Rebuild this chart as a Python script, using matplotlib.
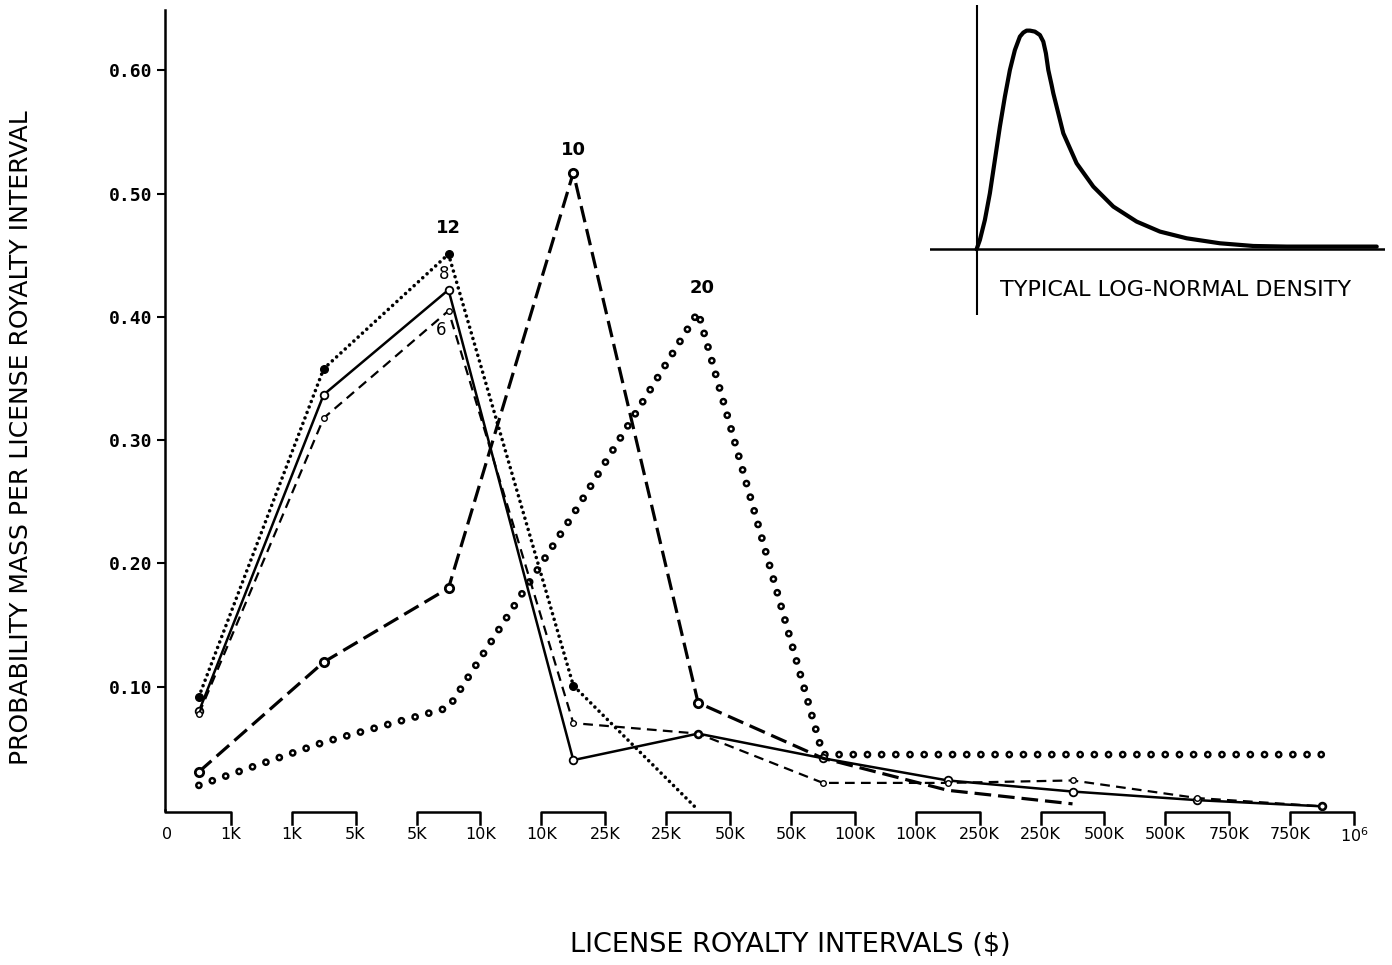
import matplotlib.pyplot as plt
import numpy as np

# dash lengths in points, not scaled by line width (used for the dot chains)
plt.rcParams['lines.scale_dashes'] = False

# royalty intervals ($): label under the left and right end of each bracket
left_labels = ['0', '1K', '5K', '10K', '25K', '50K', '100K', '250K', '500K', '750K']
right_labels = ['1K', '5K', '10K', '25K', '50K', '100K', '250K', '500K', '750K', '10$^6$']

# probability mass per interval
p6 = [0.078, 0.318, 0.405, 0.0705, 0.062, 0.022, 0.022, 0.024, 0.0097, 0.003]
p8 = [0.080, 0.337, 0.422, 0.0405, 0.062, 0.042, 0.024, 0.015, 0.008, 0.003]
p10 = [0.031, 0.120, 0.180, 0.517, 0.087, 0.042, 0.016, 0.005]
p12 = [0.092, 0.358, 0.451, 0.101, 0.0]
p20 = [0.020, 0.055, 0.083, 0.240, 0.404, 0.045, 0.045, 0.045, 0.045, 0.045]

# inset sketch of a log-normal density
inset_x = [0, 3.3, 8.3, 13.3, 18.3, 23.3, 28.3, 33.3, 38.3, 43.3, 46.7, 50,
           53.3, 58.3, 63.3, 66.7, 69.3, 71.7, 75, 76.7, 86.7, 100, 116.7,
           136.7, 160, 183.3, 210, 243.3, 276.7, 310, 400]
inset_y = [0, 9.3, 29.3, 56, 89.3, 122.7, 152.7, 179.3, 199.3, 212.7, 216.7,
           218.7, 218.7, 217.7, 214.3, 207.7, 196, 179.3, 164.3, 156, 116, 86,
           62.7, 42.7, 27.7, 17.7, 11, 6, 3.3, 2.7, 2.7]

fig = plt.figure(figsize=(13.92, 9.65), dpi=100)
ax = fig.add_axes([0.1185, 0.1606, 0.8764, 0.829])

x = np.arange(len(left_labels))

# 20: chain of small rings (black dots with white centres)
x20 = x[:len(p20)]
ax.plot(x20, p20, color='black', lw=5.6, dashes=(0.01, 10.2),
        dash_capstyle='round', zorder=3)
ax.plot(x20, p20, color='white', lw=2.0, dashes=(0.01, 10.2),
        dash_capstyle='round', zorder=3)

# 12: fine dotted line
x12 = x[:len(p12)]
ax.plot(x12, p12, color='black', lw=2.6, dashes=(0.01, 4.2),
        dash_capstyle='round', zorder=4)
ax.plot(x12[:-1], p12[:-1], 'o', color='black', ms=5.5, zorder=5)

# 8: solid line
ax.plot(x, p8, color='black', lw=1.8, marker='o', ms=5.5, mfc='white',
        mec='black', mew=1.3, zorder=4)

# 6: short dashes
ax.plot(x, p6, color='black', lw=1.6, dashes=(7, 4.5), marker='o', ms=4,
        mfc='white', mec='black', mew=1.0, zorder=4)

# 10: long dashes
x10 = x[:len(p10)]
ax.plot(x10, p10, color='black', lw=2.3, dashes=(12, 5), zorder=4)
ax.plot(x10[:5], p10[:5], 'o', ms=6, mfc='white', mec='black', mew=2.0, zorder=5)

# series labels next to their peaks
ax.annotate('12', (2, p12[2]), xytext=(0, 12), textcoords='offset points',
            ha='center', va='bottom', fontsize=13, fontweight='bold')
ax.annotate('8', (2, p8[2]), xytext=(-3, 5), textcoords='offset points',
            ha='center', va='bottom', fontsize=12)
ax.annotate('6', (2, p6[2]), xytext=(-5, -7), textcoords='offset points',
            ha='center', va='top', fontsize=12)
ax.annotate('10', (3, p10[3]), xytext=(0, 10), textcoords='offset points',
            ha='center', va='bottom', fontsize=13, fontweight='bold')
ax.annotate('20', (4, p20[4]), xytext=(3, 11), textcoords='offset points',
            ha='center', va='bottom', fontsize=13, fontweight='bold')

# interval brackets under the x axis
hw = 0.255
for i in x:
    lft, rgt = i - hw, i + hw
    if i == 0:
        lft = -0.272
        ax.plot([lft, lft, rgt, rgt], [0, -0.0015, -0.0015, -0.011],
                color='black', lw=1.8, clip_on=False)
    else:
        ax.plot([lft, lft, rgt, rgt], [-0.011, -0.0015, -0.0015, -0.011],
                color='black', lw=1.8, clip_on=False)

ticks = []
labels = []
for i in x:
    ticks += [i - hw, i + hw]
    labels += [left_labels[i], right_labels[i]]
ax.set_xticks(ticks)
ax.set_xticklabels(labels, fontsize=11.5)
ax.tick_params(axis='x', length=0, pad=12)

ax.set_yticks([0.1, 0.2, 0.3, 0.4, 0.5, 0.6])
ax.set_yticklabels(['0.10', '0.20', '0.30', '0.40', '0.50', '0.60'],
                   family='DejaVu Sans Mono', fontweight='bold', fontsize=13)
ax.tick_params(axis='y', length=6, width=1.5, pad=3)

ax.set_xlim(-0.272, 9.503)
ax.set_ylim(0, 0.649)
for s in ['top', 'right', 'bottom']:
    ax.spines[s].set_visible(False)
ax.spines['left'].set_linewidth(1.8)

fig.text(0.015, 0.546, 'PROBABILITY MASS PER LICENSE ROYALTY INTERVAL',
         rotation=90, ha='center', va='center', fontsize=18)
fig.text(0.5675, 0.021, 'LICENSE ROYALTY INTERVALS ($)',
         ha='center', va='center', fontsize=19.5)

# inset
ins = fig.add_axes([0.668, 0.6736, 0.327, 0.3212])
ins.patch.set_alpha(0)
ins.plot(inset_x, inset_y, color='black', lw=3, solid_capstyle='round',
         solid_joinstyle='round')
ins.axhline(0, color='black', lw=1.8)
ins.axvline(0, color='black', lw=1.5)
ins.set_xlim(-46.7, 408.3)
ins.set_ylim(-65.7, 244.3)
ins.axis('off')
ins.text(199, -41, 'TYPICAL LOG-NORMAL DENSITY', ha='center', va='center',
         fontsize=16)

fig.savefig('out.png', dpi=100)
